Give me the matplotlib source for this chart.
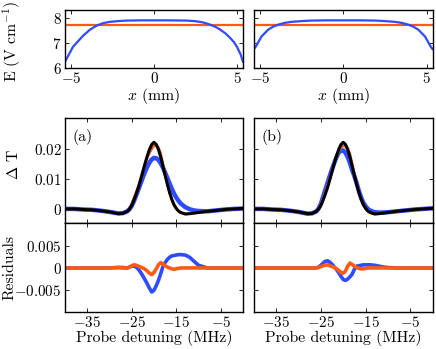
import matplotlib
matplotlib.use("Agg")
import matplotlib.pyplot as plt

plt.rcParams['font.family'] = 'serif'
plt.rcParams['font.serif'] = ['cmr10']
plt.rcParams['mathtext.fontset'] = 'cm'
plt.rcParams['axes.formatter.use_mathtext'] = True
plt.rcParams['axes.unicode_minus'] = True

BLUE = '#2D4BFF'
ORANGE = '#FF5A14'

# ---------------- field profiles (top panels) ----------------
pos_a = [-5.35, -4.86, -4.26, -3.85, -3.45, -3.05, -2.65, -2.15, -1.65, -0.8, 0.0, 0.8, 1.5, 1.97, 2.4, 2.77, 3.1, 3.37, 3.7, 3.98, 4.3, 4.58, 4.8, 4.98, 5.2, 5.35]
field_a = [6.25, 6.85, 7.28, 7.52, 7.68, 7.78, 7.83, 7.86, 7.88, 7.89, 7.89, 7.89, 7.885, 7.88, 7.86, 7.83, 7.78, 7.72, 7.63, 7.52, 7.37, 7.19, 7.03, 6.85, 6.55, 6.25]
pos_b = [-5.35, -5.24, -4.9, -4.5, -4.2, -3.9, -3.5, -3.1, -2.5, -1.94, -1.0, 0.0, 1.0, 1.94, 2.5, 3.1, 3.5, 3.9, 4.2, 4.5, 4.9, 5.24, 5.35]
field_b = [6.75, 6.85, 7.25, 7.52, 7.64, 7.72, 7.79, 7.83, 7.86, 7.88, 7.89, 7.89, 7.89, 7.88, 7.86, 7.83, 7.79, 7.72, 7.64, 7.52, 7.25, 6.85, 6.75]
uniform_field = 7.72

# ---------------- spectra ----------------
detuning = [-40, -38, -36, -34, -32, -30, -28, -27, -26, -25.5, -25, -24.5, -24, -23.5, -23,
            -22.5, -22, -21.5, -21, -20.5, -20, -19.5, -19, -18.5, -18, -17.5, -17, -16.5,
            -16, -15.5, -15, -14.5, -14, -13, -12, -11, -10, -8, -6, -4, -2, 0]

data = [0.0000, 0.0000, -0.0002, -0.0003, -0.0006, -0.0010, -0.0016, -0.0015, -0.0008, 0.0000,
        0.0012, 0.0030, 0.0050, 0.0072, 0.0098, 0.0125, 0.0152, 0.0177, 0.0199, 0.0215,
        0.0222, 0.0215, 0.0198, 0.0173, 0.0143, 0.0112, 0.0082, 0.0055, 0.0032, 0.0014,
        0.0002, -0.0007, -0.0012, -0.0017, -0.0016, -0.0014, -0.0012, -0.0008, -0.0005,
        -0.0002, 0.0000, 0.0002]

fit_blue_a = [0.0000, 0.0000, -0.0002, -0.0003, -0.0006, -0.0010, -0.0015, -0.0014, -0.0008, -0.0001,
              0.0010, 0.0026, 0.0045, 0.0065, 0.0085, 0.0105, 0.0124, 0.0141, 0.0155, 0.0165,
              0.0170, 0.0169, 0.0163, 0.0152, 0.0138, 0.0121, 0.0103, 0.0085, 0.0067, 0.0051,
              0.0038, 0.0027, 0.0018, 0.0006, -0.0001, -0.0005, -0.0007, -0.0008, -0.0005,
              -0.0002, 0.0000, 0.0001]

fit_orange_a = [0.0000, 0.0000, -0.0002, -0.0003, -0.0006, -0.0010, -0.0015, -0.0015, -0.0008, 0.0002,
                0.0017, 0.0037, 0.0056, 0.0076, 0.0100, 0.0125, 0.0149, 0.0170, 0.0187, 0.0200,
                0.0210, 0.0212, 0.0205, 0.0185, 0.0152, 0.0117, 0.0084, 0.0055, 0.0030, 0.0011,
                0.0000, -0.0007, -0.0012, -0.0017, -0.0016, -0.0014, -0.0012, -0.0008, -0.0005,
                -0.0002, 0.0000, 0.0002]

fit_blue_b = [0.0000, 0.0000, -0.0002, -0.0003, -0.0006, -0.0010, -0.0016, -0.0015, -0.0008, 0.0002,
              0.0018, 0.0041, 0.0065, 0.0088, 0.0111, 0.0133, 0.0154, 0.0173, 0.0188, 0.0195,
              0.0195, 0.0187, 0.0173, 0.0153, 0.0129, 0.0109, 0.0086, 0.0060, 0.0038, 0.0021,
              0.0009, 0.0000, -0.0005, -0.0011, -0.0012, -0.0012, -0.0011, -0.0008, -0.0005,
              -0.0002, 0.0000, 0.0002]

fit_orange_b = [0.0000, 0.0000, -0.0002, -0.0003, -0.0006, -0.0010, -0.0016, -0.0015, -0.0008, 0.0001,
                0.0015, 0.0035, 0.0056, 0.0079, 0.0103, 0.0128, 0.0153, 0.0175, 0.0193, 0.0205,
                0.0210, 0.0208, 0.0202, 0.0184, 0.0151, 0.0116, 0.0083, 0.0054, 0.0030, 0.0012,
                0.0001, -0.0007, -0.0012, -0.0017, -0.0016, -0.0014, -0.0012, -0.0008, -0.0005,
                -0.0002, 0.0000, 0.0002]

resid_blue_a = [0.0000, 0.0000, 0.0000, 0.0000, 0.0000, 0.0000, 0.0001, 0.0001, 0.0000, 0.0002,
                0.0004, 0.0004, 0.0002, -0.0003, -0.0010, -0.0018, -0.0027, -0.0036, -0.0046, -0.0054,
                -0.0050, -0.0040, -0.0028, -0.0013, 0.0003, 0.0012, 0.0019, 0.0024, 0.0027, 0.0028,
                0.0029, 0.0030, 0.0030, 0.0029, 0.0024, 0.0015, 0.0006, 0.0000, 0.0000,
                0.0000, 0.0000, 0.0000]

resid_orange_a = [0.0000, 0.0000, 0.0000, 0.0000, 0.0000, 0.0000, 0.0001, 0.0000, 0.0000, 0.0002,
                  0.0005, 0.0007, 0.0006, 0.0004, 0.0002, 0.0000, -0.0003, -0.0007, -0.0012, -0.0015,
                  -0.0010, -0.0002, 0.0007, 0.0012, 0.0009, 0.0005, 0.0002, 0.0000, -0.0002, -0.0003,
                  -0.0002, -0.0001, 0.0000, 0.0000, 0.0000, 0.0000, 0.0000, 0.0000, 0.0000,
                  0.0000, 0.0000, 0.0000]

resid_blue_b = [0.0000, 0.0000, 0.0000, 0.0000, 0.0000, 0.0000, 0.0000, 0.0000, 0.0000, 0.0002,
                0.0006, 0.0011, 0.0015, 0.0016, 0.0013, 0.0008, 0.0002, -0.0004, -0.0011, -0.0019,
                -0.0026, -0.0028, -0.0025, -0.0020, -0.0014, -0.0003, 0.0004, 0.0005, 0.0006, 0.0007,
                0.0007, 0.0007, 0.0007, 0.0006, 0.0004, 0.0002, 0.0001, 0.0000, 0.0000,
                0.0000, 0.0000, 0.0000]

resid_orange_b = [0.0000, 0.0000, 0.0000, 0.0000, 0.0000, 0.0000, 0.0000, 0.0000, 0.0000, 0.0001,
                  0.0003, 0.0005, 0.0006, 0.0007, 0.0005, 0.0003, 0.0001, -0.0002, -0.0006, -0.0010,
                  -0.0012, -0.0007, 0.0004, 0.0011, 0.0008, 0.0004, 0.0001, -0.0001, -0.0002, -0.0002,
                  -0.0001, 0.0000, 0.0000, 0.0000, 0.0000, 0.0000, 0.0000, 0.0000, 0.0000,
                  0.0000, 0.0000, 0.0000]

pos_ticks = [-5, 0, 5]
pos_ticklabels = ['$-5$', '$0$', '$5$']
field_ticks = [6, 7, 8]
field_ticklabels = ['$6$', '$7$', '$8$']
det_ticks = [-35, -25, -15, -5]
det_ticklabels = ['$-35$', '$-25$', '$-15$', '$-5$']
dt_ticks = [0, 0.01, 0.02]
dt_ticklabels = ['$0$', '$0.01$', '$0.02$']
res_ticks = [-0.005, 0, 0.005]
res_ticklabels = ['$-0.005$', '$0$', '$0.005$']
panel_labels = ['(a)', '(b)']

W, H = 436, 349
fig = plt.figure(figsize=(W / 100, H / 100), dpi=100)

def rect(l, r, t, b):
    return [l / W, 1 - b / H, (r - l) / W, (b - t) / H]

FS = 11.3
TFS = 10.8

def style(ax):
    ax.tick_params(direction='in', top=True, right=True, length=3, width=0.6,
                   labelsize=TFS, pad=2.5)
    for s in ax.spines.values():
        s.set_linewidth(1.0)

def place_ylabel(ax, l, r, t, b, xpix, ypix):
    ax.yaxis.label.set_verticalalignment('center')
    ax.yaxis.set_label_coords((xpix - l) / (r - l), (b - ypix) / (b - t))

cols = [(65, 243), (254, 432.5)]
fields = [(pos_a, field_a), (pos_b, field_b)]
fits_b = [fit_blue_a, fit_blue_b]
fits_o = [fit_orange_a, fit_orange_b]
res_b = [resid_blue_a, resid_blue_b]
res_o = [resid_orange_a, resid_orange_b]

for i, (l, r) in enumerate(cols):
    # top field panel
    ax0 = fig.add_axes(rect(l, r, 10, 68))
    ax0.axhline(uniform_field, color=ORANGE, lw=1.6)
    ax0.plot(fields[i][0], fields[i][1], color=BLUE, lw=1.6)
    ax0.set_xlim(-5.35, 5.35)
    ax0.set_ylim(6, 8.3)
    ax0.set_xticks(pos_ticks)
    ax0.set_xticklabels(pos_ticklabels)
    ax0.set_yticks(field_ticks)
    style(ax0)
    ax0.set_xlabel('$x$ (mm)', fontsize=FS, labelpad=0)
    if i == 0:
        ax0.set_yticklabels(field_ticklabels)
        ax0.set_ylabel('E (V cm$^{-1}$)', fontsize=FS)
        place_ylabel(ax0, l, r, 10, 68, 12, 41)
    else:
        ax0.set_yticklabels([])

    # spectrum panel
    ax1 = fig.add_axes(rect(l, r, 118, 223))
    ax1.plot(detuning, fits_b[i], color=BLUE, lw=3.2, solid_joinstyle='round')
    ax1.plot(detuning, fits_o[i], color=ORANGE, lw=1.8)
    ax1.plot(detuning, data, color='black', lw=2.2)
    ax1.set_xlim(-40, 0)
    ax1.set_ylim(-0.0047, 0.0303)
    ax1.set_xticks(det_ticks)
    ax1.set_xticklabels([])
    ax1.set_yticks(dt_ticks)
    style(ax1)
    ax1.text(0.04, 0.82, panel_labels[i], transform=ax1.transAxes, fontsize=FS,
             ha='left', va='center')
    if i == 0:
        ax1.set_yticklabels(dt_ticklabels)
        ax1.set_ylabel('$\\Delta$ T', fontsize=FS)
        place_ylabel(ax1, l, r, 118, 223, 14, 164)
    else:
        ax1.set_yticklabels([])

    # residual panel
    ax2 = fig.add_axes(rect(l, r, 223, 312))
    ax2.plot(detuning, res_b[i], color=BLUE, lw=2.6)
    ax2.plot(detuning, res_o[i], color=ORANGE, lw=2.6)
    ax2.set_xlim(-40, 0)
    ax2.set_ylim(-0.0099, 0.0101)
    ax2.set_xticks(det_ticks)
    ax2.set_xticklabels(det_ticklabels)
    ax2.set_yticks(res_ticks)
    style(ax2)
    ax2.set_xlabel('Probe detuning (MHz)', fontsize=FS, labelpad=0)
    if i == 0:
        ax2.set_yticklabels(res_ticklabels)
        ax2.set_ylabel('Residuals', fontsize=FS)
        place_ylabel(ax2, l, r, 223, 312, 10, 267)
    else:
        ax2.set_yticklabels([])

fig.savefig('out.png', dpi=100)
